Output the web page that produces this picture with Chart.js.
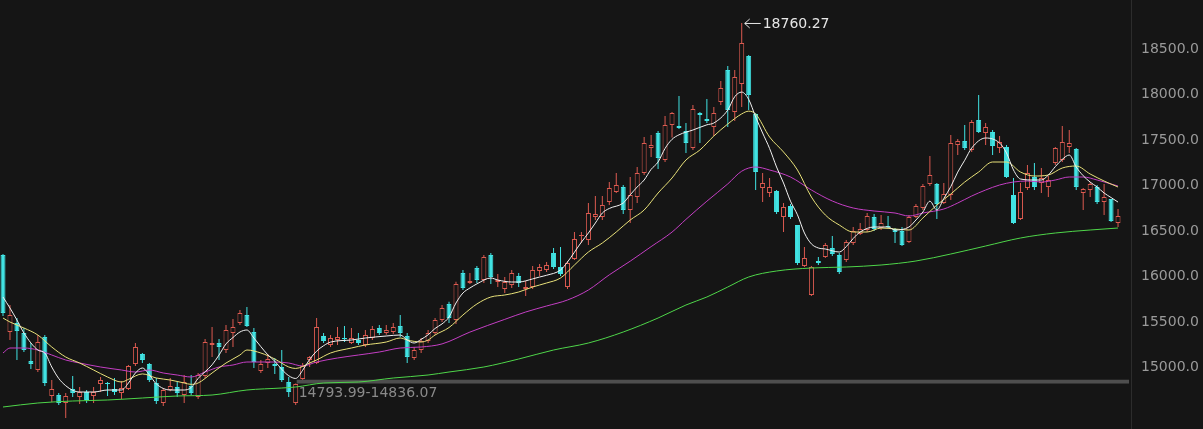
<!DOCTYPE html>
<html>
<head>
<meta charset="utf-8">
<script src="https://cdn.jsdelivr.net/npm/chart.js@4.4.0/dist/chart.umd.min.js"></script>
<style>
  html, body { margin: 0; padding: 0; background: #151515; }
  #wrap { width: 1203px; height: 429px; position: relative; }
</style>
</head>
<body>
<div id="wrap"><canvas id="kline"></canvas></div>
<script>
// daily candles (left to right)
var opens = [
  16208,15361,15460,15350,15042,14943,15306,14657,14668,14580,
  14734,14646,14701,14657,14789,14800,14734,14690,14734,15009,
  15119,15009,14800,14580,14723,14756,14668,14767,14646,14877,
  15218,15240,15163,15350,15460,15548,15361,14932,15020,15009,
  14976,14811,14580,14844,15053,15020,15317,15218,15273,15295,
  15240,15273,15218,15295,15405,15350,15361,15427,15317,15075,
  15163,15262,15350,15493,15669,15493,16010,15900,16065,15933,
  16208,15911,15834,15878,15977,15834,15856,16032,16043,16230,
  16076,15856,16164,16417,16373,16626,16626,16791,16901,16956,
  16703,16846,17110,17385,17550,17253,17638,17627,17572,17385,
  17770,17704,17616,17891,18243,17781,18089,18397,17759,16945,
  16890,16912,16626,16747,16538,16087,15768,16142,16186,16285,
  16208,16153,16340,16439,16483,16626,16505,16527,16494,16472,
  16351,16626,16725,16989,16989,16780,16868,17418,17462,17363,
  17693,17550,17561,17385,17396,16868,16604,16945,17066,17000,
  16956,17220,17253,17396,17374,16890,16923,16956,16791,16824,
  16560
];
var closes = [
  15570,15548,15372,15163,15009,15251,14800,14734,14580,14657,
  14690,14701,14613,14701,14833,14789,14701,14745,14987,15196,
  15053,14833,14602,14723,14767,14690,14811,14690,14888,15251,
  15240,15196,15383,15416,15570,15427,15031,15009,15064,14987,
  14833,14701,14789,14987,15086,15416,15262,15295,15306,15280,
  15295,15240,15328,15394,15350,15383,15416,15350,15086,15163,
  15262,15350,15493,15625,15515,15889,15845,15922,15933,16186,
  15966,15933,15911,16010,15900,15856,16043,16076,16098,16076,
  15999,16120,16384,16428,16670,16659,16758,16945,16978,16703,
  16868,17110,17440,17418,17275,17638,17770,17605,17440,17814,
  17748,17682,17770,18045,17803,18166,18540,17968,17121,17000,
  16956,16681,16736,16626,16120,16175,16076,16120,16318,16219,
  16021,16351,16472,16494,16637,16494,16560,16516,16461,16318,
  16626,16747,16967,17088,16769,16879,17440,17462,17385,17671,
  17561,17616,17407,17451,17066,16560,16901,17110,16956,17055,
  17033,17385,17451,17440,16956,16934,16989,16791,16846,16582,
  16637
];
var highs = [
  16219,15658,15515,15405,15240,15328,15328,14833,14690,14690,
  14877,14756,14723,14756,14866,14811,14855,14822,14998,15240,
  15130,15020,14855,14745,14855,14822,14888,14888,14910,15284,
  15416,15284,15438,15504,15603,15636,15405,15053,15119,15075,
  15163,14866,14793.99,15020,15097,15515,15350,15328,15416,15427,
  15405,15350,15383,15427,15438,15438,15460,15548,15350,15196,
  15295,15383,15515,15658,15695,15915,16043,16010,16087,16208,
  16230,15999,15966,16043,16010,15922,16087,16109,16131,16285,
  16296,16142,16460,16460,16780,16857,16857,17011,17110,16978,
  17066,17176,17506,17528,17572,17737,17781,17957,17660,17858,
  17781,17924,17836,18122,18287,18243,18760.27,18408,17770,17110,
  17055,16923,16780,16769,16538,16296,16087,16186,16340,16417,
  16230,16373,16516,16560,16670,16659,16648,16637,16505,16516,
  16648,16769,16989,17297,17000,17000,17528,17484,17638,17693,
  17968,17660,17583,17517,17418,17055,17000,17198,17220,17165,
  17077,17396,17627,17583,17385,16945,17011,16978,16989,16824,
  16714
];
var lows = [
  15537,15273,15053,15141,14954,14921,14767,14591,14558,14415,
  14646,14569,14580,14580,14701,14657,14668,14624,14723,14987,
  15020,14811,14569,14547,14710,14646,14580,14668,14624,14855,
  15086,15053,15130,15196,15438,15416,14965,14910,14965,14899,
  14811,14646,14558,14836.07,14976,15009,15240,15196,15218,15251,
  15230,15218,15196,15273,15328,15330,15340,15306,15020,15053,
  15130,15240,15330,15471,15460,15449,15823,15890,15900,15900,
  15889,15856,15790,15845,15856,15757,15834,15977,16021,16054,
  15977,15834,16153,16340,16318,16593,16593,16758,16890,16659,
  16560,16780,17088,17286,17154,17231,17500,17595,17330,17363,
  17440,17660,17517,17858,17616,17682,17836,17803,16923,16791,
  16846,16659,16461,16604,16098,16076,15757,16098,16175,16197,
  15999,16131,16318,16428,16461,16472,16483,16505,16340,16307,
  16340,16615,16703,16967,16604,16769,16813,17308,17363,17341,
  17550,17418,17308,17330,17055,16549,16593,16923,16923,16890,
  16846,17198,17231,17330,16923,16703,16846,16769,16648,16571,
  16516
];

// moving average lines, [candle index, value]
var ma5 = [[0,15746],[1,15625],[2,15493],[3,15350],[5,15163],[6,15130],[7,14976],[8,14850],[9,14770],[10,14720],[11,14701],[13,14701],[15,14723],[17,14723],[18,14800],[19,14910],[20,14965],[21,14890],[22,14790],[24,14723],[26,14723],[27,14750],[28,14850],[30,15000],[31,15108],[32,15230],[33,15300],[34,15361],[35,15383],[36,15295],[37,15200],[38,15110],[39,15040],[40,14950],[41,14880],[42,14850],[43,14940],[44,15060],[45,15150],[46,15210],[47,15250],[50,15273],[52,15295],[55,15317],[57,15328],[58,15273],[59,15240],[60,15280],[61,15330],[62,15400],[63,15450],[64,15526],[65,15680],[66,15790],[67,15845],[68,15890],[70,15955],[71,15933],[73,15911],[74,15911],[76,15945],[77,15966],[78,15985],[80,16043],[81,16131],[83,16350],[84,16450],[85,16560],[86,16670],[87,16720],[89,16780],[90,16870],[91,16956],[92,17033],[93,17150],[94,17231],[95,17380],[96,17480],[97,17530],[99,17583],[101,17640],[102,17660],[104,17803],[105,17950],[106,18000],[107,17920],[108,17726],[109,17550],[110,17380],[111,17176],[112,17000],[113,16800],[114,16650],[115,16450],[116,16330],[117,16285],[118,16274],[120,16241],[121,16300],[122,16390],[123,16461],[125,16516],[127,16516],[128,16483],[130,16516],[131,16593],[132,16681],[133,16800],[134,16703],[135,16830],[136,16960],[137,17120],[138,17250],[139,17385],[141,17495],[143,17440],[144,17330],[145,17143],[146,17044],[148,17033],[149,17033],[150,17088],[151,17180],[152,17260],[153,17308],[154,17176],[155,17080],[156,17010],[157,16956],[158,16890],[159,16840],[160,16790]];
var ma10 = [[0,15515],[1,15471],[3,15405],[5,15328],[7,15196],[9,15086],[11,15020],[13,14943],[15,14866],[17,14811],[18,14840],[20,14900],[22,14855],[24,14833],[26,14800],[27,14785],[28,14800],[30,14910],[32,15020],[34,15108],[35,15163],[37,15130],[39,15064],[41,14976],[42,14960],[44,15020],[45,15053],[47,15130],[50,15185],[52,15218],[55,15251],[57,15295],[58,15273],[60,15251],[61,15273],[62,15328],[64,15410],[66,15548],[68,15669],[70,15746],[72,15768],[74,15801],[76,15856],[78,15900],[80,15955],[82,16098],[84,16241],[86,16340],[88,16461],[90,16593],[92,16703],[94,16890],[96,17055],[98,17253],[100,17363],[102,17517],[104,17649],[106,17760],[107,17790],[108,17759],[110,17506],[112,17341],[114,17143],[116,16846],[118,16648],[120,16538],[122,16461],[124,16461],[126,16505],[128,16494],[130,16483],[132,16615],[134,16758],[136,16879],[138,17011],[140,17121],[142,17231],[144,17231],[146,17121],[148,17077],[150,17088],[152,17165],[154,17187],[156,17099],[158,17022],[160,16956]];
var ma20 = [[0,15130],[1,15185],[3,15185],[5,15163],[7,15108],[9,15053],[11,15020],[14,14976],[17,14943],[19,14921],[21,14943],[23,14910],[25,14888],[27,14866],[29,14921],[31,14976],[33,14998],[35,15031],[37,15031],[39,15031],[41,15020],[43,14987],[45,15031],[48,15075],[51,15108],[54,15141],[57,15185],[60,15196],[63,15230],[67,15360],[72,15500],[75,15581],[78,15647],[81,15713],[84,15823],[87,15990],[90,16140],[93,16300],[96,16460],[98,16600],[101,16800],[104,16990],[106,17130],[108,17176],[110,17143],[113,17066],[116,16923],[119,16802],[122,16725],[125,16692],[128,16670],[130,16637],[132,16670],[135,16714],[137,16780],[139,16857],[141,16923],[143,16978],[145,17011],[147,17022],[149,17011],[151,17033],[153,17066],[155,17066],[157,17033],[159,16989],[160,16967]];
var ma60 = [[0,14536],[5,14580],[10,14602],[15,14613],[20,14635],[25,14657],[30,14668],[35,14723],[40,14745],[42,14756],[46,14800],[51,14811],[56,14855],[61,14888],[64,14921],[69,14976],[74,15064],[79,15163],[84,15240],[89,15361],[94,15515],[98,15658],[101,15746],[104,15856],[107,15966],[111,16032],[116,16065],[121,16076],[126,16098],[131,16142],[136,16219],[141,16307],[146,16395],[151,16450],[156,16483],[160,16505]];

var yTicks = [15000, 15500, 16000, 16500, 17000, 17500, 18000, 18500];

// unfilled gap between candle 42 high and candle 43 low
var gapIndex = 42;
var gapLow = 14793.99;
var gapHigh = 14836.07;

var upColor = '#dc5a50';
var downColor = '#41e3e3';
var bgColor = '#151515';

Chart.defaults.font.family = 'DejaVu Sans';

var isUp = opens.map(function (o, i) { return closes[i] >= o; });

var bodyData = opens.map(function (o, i) { return { x: i, y: [o, closes[i]] }; });
var wickData = lows.map(function (l, i) { return { x: i, y: [l, highs[i]] }; });

function toPoints(list) {
  return list.map(function (p) { return { x: p[0], y: p[1] }; });
}

function maLine(list, color) {
  return {
    type: 'line',
    data: toPoints(list),
    borderColor: color,
    borderWidth: 1,
    pointRadius: 0,
    cubicInterpolationMode: 'monotone',
    order: 0
  };
}

// gap band and price labels
var markPlugin = {
  id: 'marks',
  beforeDatasetsDraw: function (chart) {
    var ctx = chart.ctx;
    var xs = chart.scales.x;
    var ys = chart.scales.y;
    var x0 = xs.getPixelForValue(gapIndex) + 1;
    var yTop = ys.getPixelForValue(gapHigh);
    var yBot = ys.getPixelForValue(gapLow);
    ctx.save();
    ctx.fillStyle = '#4e4e4e';
    ctx.fillRect(x0, yTop, chart.chartArea.right - x0 - 2, yBot - yTop);
    ctx.restore();
  },
  afterDatasetsDraw: function (chart) {
    var ctx = chart.ctx;
    var xs = chart.scales.x;
    var ys = chart.scales.y;

    // highest price
    var pk = highs.indexOf(Math.max.apply(null, highs));
    var px = xs.getPixelForValue(pk);
    var py = ys.getPixelForValue(highs[pk]);
    ctx.save();
    ctx.strokeStyle = '#e6e6e6';
    ctx.lineWidth = 1;
    ctx.beginPath();
    ctx.moveTo(px + 3, py + 0.5);
    ctx.lineTo(px + 19, py + 0.5);
    ctx.moveTo(px + 8, py - 4);
    ctx.lineTo(px + 3, py + 0.5);
    ctx.lineTo(px + 8, py + 5);
    ctx.stroke();
    ctx.fillStyle = '#e6e6e6';
    ctx.font = '14px "DejaVu Sans"';
    ctx.textBaseline = 'middle';
    ctx.textAlign = 'left';
    ctx.fillText(highs[pk].toFixed(2), px + 21, py + 1);

    // gap range
    var gx = xs.getPixelForValue(gapIndex) + 3;
    var gy = ys.getPixelForValue(gapLow);
    ctx.fillStyle = '#8a8a8a';
    ctx.textBaseline = 'top';
    ctx.fillText(gapLow.toFixed(2) + '-' + gapHigh.toFixed(2), gx, gy + 3);
    ctx.restore();
  }
};

new Chart(document.getElementById('kline'), {
  type: 'bar',
  data: {
    datasets: [
      maLine(ma5, '#f2f2f2'),
      maLine(ma10, '#e9e27a'),
      maLine(ma20, '#c43fc4'),
      maLine(ma60, '#4fd64a'),
      {
        data: bodyData,
        backgroundColor: isUp.map(function (u) { return u ? bgColor : downColor; }),
        borderColor: isUp.map(function (u) { return u ? upColor : downColor; }),
        borderWidth: 1,
        borderSkipped: false,
        barThickness: 5,
        minBarLength: 1,
        inflateAmount: 0,
        grouped: false,
        order: 1
      },
      {
        data: wickData,
        backgroundColor: isUp.map(function (u) { return u ? upColor : downColor; }),
        borderWidth: 0,
        barThickness: 1,
        inflateAmount: 0,
        grouped: false,
        order: 2
      }
    ]
  },
  options: {
    responsive: true,
    maintainAspectRatio: false,
    animation: false,
    layout: { padding: 0 },
    plugins: {
      legend: { display: false },
      tooltip: { enabled: false }
    },
    scales: {
      x: {
        type: 'linear',
        display: false,
        offset: false,
        min: -0.43,
        max: 161.86
      },
      y: {
        position: 'right',
        min: 14294,
        max: 19013,
        grid: { display: false, drawTicks: false },
        border: { display: true, color: '#2c2c2c' },
        afterBuildTicks: function (scale) {
          scale.ticks = yTicks.map(function (v) { return { value: v }; });
        },
        afterFit: function (scale) {
          scale.width = 72;
          scale.paddingTop = 0;
          scale.paddingBottom = 0;
        },
        ticks: {
          color: '#9a9a9a',
          padding: 10,
          labelOffset: 2.5,
          font: { size: 14 },
          callback: function (v) { return Number(v).toFixed(1); }
        }
      }
    }
  },
  plugins: [markPlugin]
});
</script>
</body>
</html>
